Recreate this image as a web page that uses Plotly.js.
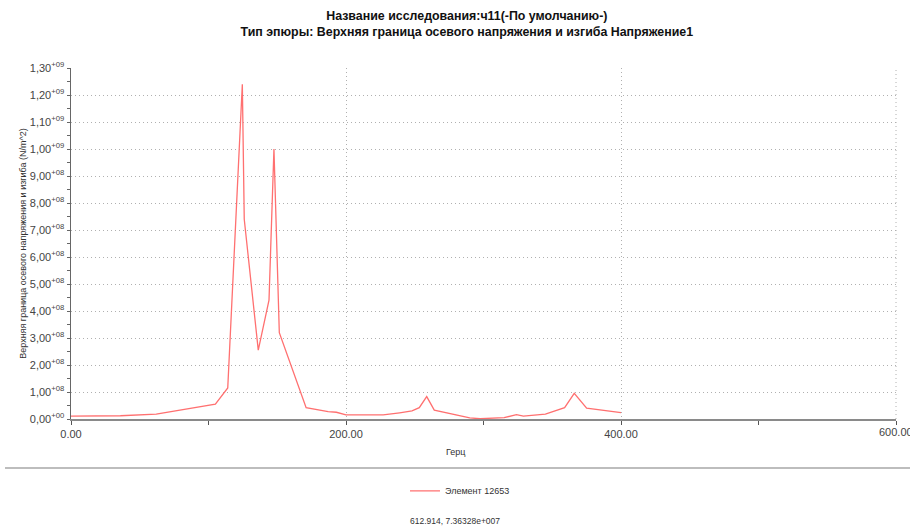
<!DOCTYPE html>
<html>
<head>
<meta charset="utf-8">
<script src="https://cdn.plot.ly/plotly-3.0.1.min.js"></script>
<style>html,body{margin:0;padding:0;background:#fff;}#chart{width:910px;height:529px;}</style>
</head>
<body>
<div id="chart"></div>
<script>
// Frequency (Герц)
const freq = [0, 36, 62, 105, 114, 124.6, 126, 136.2, 144, 147.6, 151.5, 171, 187, 193, 200, 227, 239, 248, 253.3, 258.7, 264.2, 290, 297.5, 315, 324, 329, 345, 359, 366, 375, 400];
// Upper bound of axial and bending stress (N/m^2)
const stress = [1.1e7, 1.2e7, 1.8e7, 5.5e7, 1.15e8, 1.24e9, 7.4e8, 2.55e8, 4.4e8, 1.0e9, 3.2e8, 4.2e7, 2.7e7, 2.5e7, 1.5e7, 1.5e7, 2.3e7, 3.0e7, 4.2e7, 8.3e7, 3.3e7, 4e6, 1e6, 5e6, 1.6e7, 1.1e7, 1.8e7, 4.2e7, 9.5e7, 4.0e7, 2.4e7];

const yTickVals = [0, 1e8, 2e8, 3e8, 4e8, 5e8, 6e8, 7e8, 8e8, 9e8, 1.0e9, 1.1e9, 1.2e9, 1.3e9];
const yTickText = ['0,00<sup>+00</sup>', '1,00<sup>+08</sup>', '2,00<sup>+08</sup>', '3,00<sup>+08</sup>', '4,00<sup>+08</sup>', '5,00<sup>+08</sup>', '6,00<sup>+08</sup>', '7,00<sup>+08</sup>', '8,00<sup>+08</sup>', '9,00<sup>+08</sup>', '1,00<sup>+09</sup>', '1,10<sup>+09</sup>', '1,20<sup>+09</sup>', '1,30<sup>+09</sup>'];
const xTickVals = [0, 200, 400, 600];
const xTickText = ['0.00', '200.00', '400.00', '600.00'];

const seriesName = 'Элемент 12653';
const titleText = 'Название исследования:ч11(-По умолчанию-)<br>Тип эпюры: Верхняя граница осевого напряжения и изгиба Напряжение1';
const yTitle = 'Верхняя граница осевого напряжения и изгиба (N/m^2)';
const xTitle = 'Герц';
const cursorText = '612.914, 7.36328e+007';

const font = 'Liberation Sans, Arial, sans-serif';
const gridDash = '1px,3px';

const trace = {
  x: freq, y: stress, type: 'scatter', mode: 'lines', name: seriesName,
  line: {color: '#ff7070', width: 1.3}
};

// the last tick label (at the right edge) is drawn as an annotation so it can run off the page like the original
const xLabelAnnotations = xTickVals.slice(-1).map((v) => ({
  text: xTickText[xTickText.length - 1], xref: 'x', yref: 'paper', x: v, y: -0.0375, xanchor: 'center', yanchor: 'middle',
  showarrow: false, font: {size: 11, color: '#444', family: font}
}));

const layout = {
  width: 910, height: 529,
  margin: {l: 71, r: 14, t: 68, b: 110},
  paper_bgcolor: '#fff', plot_bgcolor: '#fff',
  font: {family: font, color: '#333'},
  title: {text: titleText, x: 0.513, xref: 'container', xanchor: 'center', y: 0.963, yref: 'container', yanchor: 'middle',
          font: {size: 12.4, color: '#111', family: font, weight: 'bold'}},
  showlegend: true,
  legend: {orientation: 'h', x: 0.4715, xanchor: 'center', y: -0.205, yanchor: 'middle', font: {size: 9, color: '#333'}, bgcolor: 'rgba(0,0,0,0)'},
  xaxis: {
    range: [0, 600], tickvals: xTickVals.slice(0, -1), ticktext: xTickText.slice(0, -1),
    showline: true, linecolor: '#8a8a8a', linewidth: 2,
    ticks: 'outside', ticklen: 4, tickcolor: '#555', tickwidth: 1,
    showgrid: true, gridcolor: '#b0b0b0', griddash: gridDash, gridwidth: 1,
    zeroline: false,
    minor: {dtick: 100, tick0: 0, ticks: 'outside', ticklen: 4, tickcolor: '#555', showgrid: false},
    tickfont: {size: 11, color: '#444', family: font},
    fixedrange: true
  },
  yaxis: {
    range: [0, 1.3e9], tickvals: yTickVals, ticktext: yTickText,
    showline: true, linecolor: '#666', linewidth: 1.5,
    ticks: 'outside', ticklen: 3, tickcolor: '#666',
    showgrid: true, gridcolor: '#b0b0b0', griddash: gridDash, gridwidth: 1,
    zeroline: false,
    minor: {dtick: 5e7, tick0: 0, ticks: 'outside', ticklen: 3, tickcolor: '#666', showgrid: false},
    tickfont: {size: 11, color: '#444', family: font},
    title: {text: yTitle, font: {size: 9, color: '#333', family: font}, standoff: 1},
    fixedrange: true
  },
  shapes: [
    {type: 'line', xref: 'paper', yref: 'paper', x0: 1, x1: 1, y0: 0, y1: 1,
     line: {color: '#b0b0b0', width: 1, dash: gridDash}},
    {type: 'line', xref: 'paper', yref: 'paper', x0: -0.08, x1: 1.02, y0: -0.1396, y1: -0.1396,
     line: {color: '#bdbdbd', width: 2}}
  ],
  annotations: xLabelAnnotations.concat([
    {text: xTitle, xref: 'paper', yref: 'paper', x: (455 - 71) / 825, y: -0.094, xanchor: 'center', yanchor: 'middle',
     showarrow: false, font: {size: 9, color: '#333', family: font}},
    {text: cursorText, xref: 'paper', yref: 'paper', x: (455 - 71) / 825, y: -0.292, xanchor: 'center', yanchor: 'middle',
     showarrow: false, font: {size: 8.5, color: '#333', family: font}}
  ])
};

Plotly.newPlot('chart', [trace], layout, {displayModeBar: false, staticPlot: true});
</script>
</body>
</html>
